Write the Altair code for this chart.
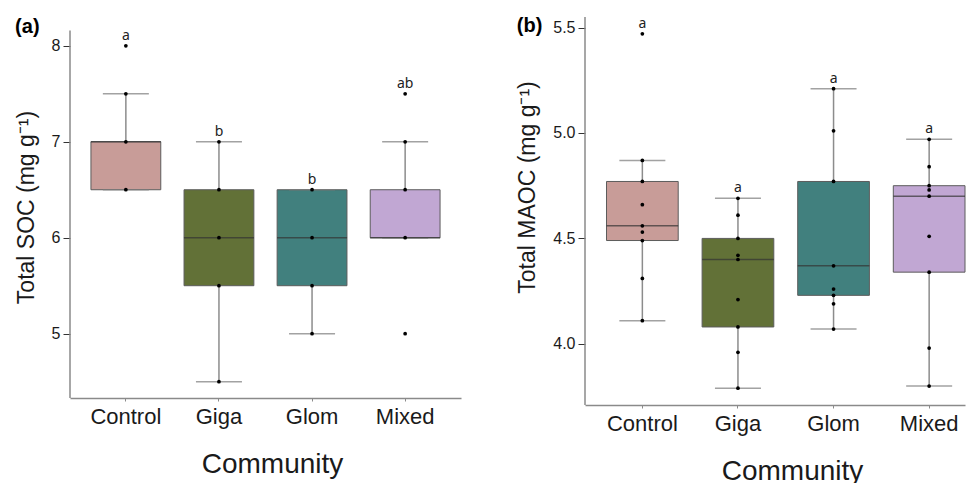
import altair as alt
import pandas as pd

groups = ["Control", "Giga", "Glom", "Mixed"]
colors = ["#c89c98", "#627137", "#41807e", "#c1a7d3"]

# Panel (a): Total SOC
soc_control = [8.0, 7.5, 7.0, 6.5]
soc_giga = [7.0, 6.5, 6.0, 5.5, 4.5]
soc_glom = [6.5, 6.0, 5.5, 5.0]
soc_mixed = [7.5, 7.0, 6.5, 6.0, 5.0]
soc_q1 = [6.5, 5.5, 5.5, 6.0]
soc_med = [7.0, 6.0, 6.0, 6.0]
soc_q3 = [7.0, 6.5, 6.5, 6.5]
soc_lo = [6.5, 4.5, 5.0, 6.0]
soc_hi = [7.5, 7.0, 6.5, 7.0]
soc_letters = ["a", "b", "b", "ab"]
soc_letter_y = [8.0, 7.0, 6.5, 7.5]
soc_ticks = [5, 6, 7, 8]
soc_domain = [4.33, 8.30]
soc_axis_extent = [4.33, 8.16]

# Panel (b): Total MAOC
maoc_control = [5.47, 4.87, 4.77, 4.66, 4.56, 4.53, 4.49, 4.31, 4.11]
maoc_giga = [4.69, 4.61, 4.50, 4.42, 4.40, 4.21, 4.08, 3.96, 3.79]
maoc_glom = [5.21, 5.01, 4.77, 4.37, 4.26, 4.23, 4.19, 4.07]
maoc_mixed = [4.97, 4.84, 4.75, 4.73, 4.70, 4.51, 4.34, 3.98, 3.80]
maoc_q1 = [4.49, 4.08, 4.23, 4.34]
maoc_med = [4.56, 4.40, 4.37, 4.70]
maoc_q3 = [4.77, 4.50, 4.77, 4.75]
maoc_lo = [4.11, 3.79, 4.07, 3.80]
maoc_hi = [4.87, 4.69, 5.21, 4.97]
maoc_letters = ["a", "a", "a", "a"]
maoc_letter_y = [5.47, 4.69, 5.21, 4.97]
maoc_ticks = [4.0, 4.5, 5.0, 5.5]
maoc_domain = [3.71, 5.55]
maoc_axis_extent = [3.71, 5.55]

FONT = "Liberation Sans"
AXIS_GREY = "#8a8a8a"


def points_df(lists):
    rows = []
    for g, vals in zip(groups, lists):
        for v in vals:
            rows.append({"group": g, "value": v})
    return pd.DataFrame(rows)


def stats_df(q1, med, q3, lo, hi, letters, ly):
    return pd.DataFrame({"group": groups, "q1": q1, "med": med, "q3": q3,
                         "lo": lo, "hi": hi, "letter": letters, "ly": ly})


def panel(pts, st, domain, extent, ticks, fmt, ytitle, label, width, height,
          title_offset, ytitle_y, xtitle_x, pad_outer, align, bw):
    xscale = alt.Scale(domain=groups, paddingInner=0.25, paddingOuter=pad_outer,
                       align=align)
    xaxis = alt.Axis(title="Community", labelAngle=0, labelFontSize=22,
                     labelPadding=5, tickSize=3, tickColor=AXIS_GREY,
                     titleFontSize=28, titlePadding=23, domainColor=AXIS_GREY,
                     domainWidth=1.5, labelColor="#1a1a1a", titleColor="#1a1a1a",
                     titleX=xtitle_x)
    yscale = alt.Scale(domain=domain, nice=False, zero=False)
    yaxis = alt.Axis(title=ytitle, values=ticks, format=fmt, grid=False,
                     tickSize=7, tickColor="#333333", labelFontSize=16,
                     labelPadding=3, titleFontSize=23, titlePadding=13,
                     domain=False, labelColor="#1a1a1a", titleColor="#1a1a1a",
                     titleY=ytitle_y)
    X = alt.X("group:N", scale=xscale, axis=xaxis, sort=groups)

    def Y(f):
        return alt.Y(f, scale=yscale, axis=yaxis)

    axis_line = alt.Chart(pd.DataFrame({"y0": [extent[0]], "y1": [extent[1]]})).mark_rule(
        color=AXIS_GREY, strokeWidth=1.5).encode(
        x=alt.value(0), y=Y("y0:Q"), y2="y1:Q")
    base = alt.Chart(st)
    whisker = base.mark_rule(color="#8c8c8c", strokeWidth=1.5).encode(
        x=X, y=Y("lo:Q"), y2="hi:Q")
    box = base.mark_bar(stroke="#5c5c5c", strokeWidth=1, opacity=1).encode(
        x=X, y=Y("q1:Q"), y2="q3:Q",
        color=alt.Color("group:N", scale=alt.Scale(domain=groups, range=colors),
                        legend=None))
    cap_lo = base.mark_tick(color="#7a7a7a", thickness=1.5, size=46).encode(
        x=X, y=Y("lo:Q"))
    cap_hi = base.mark_tick(color="#7a7a7a", thickness=1.5, size=46).encode(
        x=X, y=Y("hi:Q"))
    median = base.mark_tick(color="#333333", thickness=1.5, size=bw).encode(
        x=X, y=Y("med:Q"))
    pts_layer = alt.Chart(pts).mark_circle(color="black", size=14, opacity=1).encode(
        x=X, y=Y("value:Q"))
    letters = base.mark_text(font="Noto Sans", fontSize=14, dy=-6,
                             baseline="alphabetic", color="#222222").encode(
        x=X, y=Y("ly:Q"), text="letter:N")
    return alt.layer(whisker, box, cap_lo, cap_hi, median, pts_layer, letters,
                     axis_line).properties(
        width=width, height=height,
        title=alt.TitleParams(label, anchor="start", frame="bounds", fontSize=20,
                              fontWeight="bold", font=FONT, baseline="alphabetic",
                              offset=title_offset, color="black"))


pa = panel(points_df([soc_control, soc_giga, soc_glom, soc_mixed]),
           stats_df(soc_q1, soc_med, soc_q3, soc_lo, soc_hi, soc_letters, soc_letter_y),
           soc_domain, soc_axis_extent, soc_ticks, "d", "Total SOC (mg g⁻¹)", "(a)",
           391, 381, -36, 190, 202, 0.225, 0.5, 70)
pb = panel(points_df([maoc_control, maoc_giga, maoc_glom, maoc_mixed]),
           stats_df(maoc_q1, maoc_med, maoc_q3, maoc_lo, maoc_hi, maoc_letters, maoc_letter_y),
           maoc_domain, maoc_axis_extent, maoc_ticks, ".1f", "Total MAOC (mg g⁻¹)", "(b)",
           380, 388, -36, 170, 207, 0.1125, 1.0, 71.7)

chart = alt.hconcat(pa, pb, spacing=55).properties(
    padding={"left": 7, "top": 8, "right": 0, "bottom": 0}
).configure_view(stroke=None).configure_axis(
    labelFont=FONT, titleFont=FONT, titleFontWeight="normal"
)

chart.save("out.html", embed_options={"renderer": "svg", "actions": False})
